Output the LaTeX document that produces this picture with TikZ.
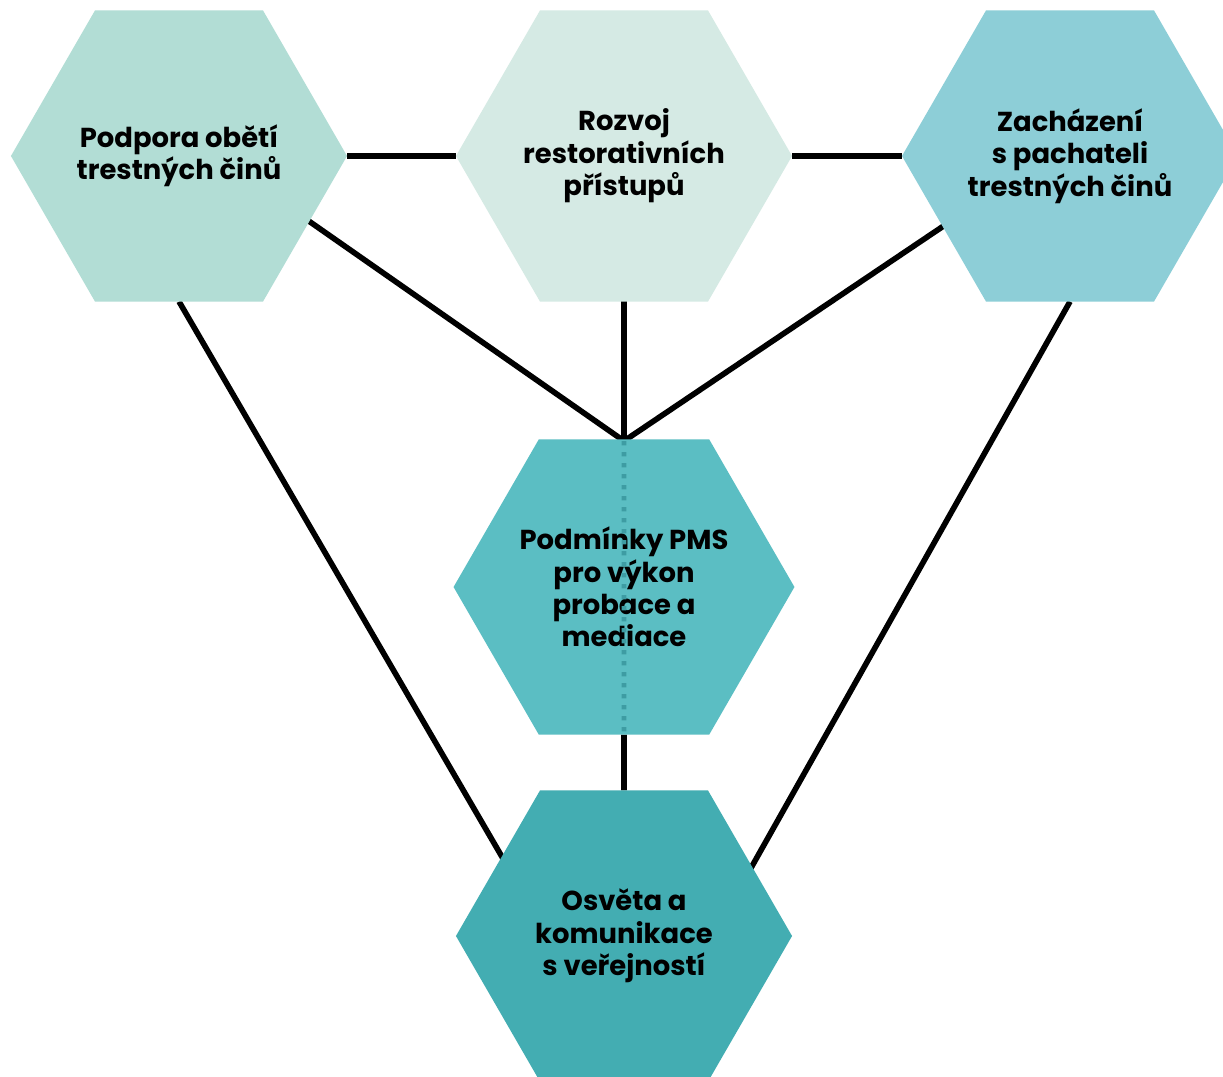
\documentclass[tikz,border=0pt]{standalone}
\usepackage{fontspec}
\setmainfont{Poppins}
\usetikzlibrary{shapes.geometric}
\definecolor{cTL}{HTML}{B2DDD5}
\definecolor{cTM}{HTML}{D5EAE4}
\definecolor{cTR}{HTML}{8DCED7}
\definecolor{cMH}{HTML}{5BBEC3}
\definecolor{cBT}{HTML}{43ADB2}
\definecolor{cDot}{HTML}{3E9CA3}
\pgfdeclarelayer{bg}
\pgfdeclarelayer{lines}
\pgfsetlayers{bg,lines,main}
\tikzset{
  hexnode/.style={regular polygon, regular polygon sides=6, minimum size=8.4cm,
    inner sep=0pt, outer sep=0pt, align=center,
    font=\fontsize{19.5}{23}\selectfont\bfseries},
  conn/.style={line width=4pt, black},
  dotconn/.style={line width=3.5pt, cDot, dash pattern=on 0.11cm off 0.165cm}
}
\begin{document}
\begin{tikzpicture}[x=0.025cm, y=-0.025cm]
\begin{pgfonlayer}{bg}
\fill[white] (0,0) rectangle (1223,1077);
\end{pgfonlayer}
\useasboundingbox (0,0) rectangle (1223,1077);
\node[hexnode, fill=cTL] (tl) at (179,156) {Podpora obětí\\trestných činů};
\node[hexnode, fill=cTM] (tm) at (624,156) {Rozvoj\\restorativních\\přístupů};
\node[hexnode, fill=cTR] (tr) at (1070,156) {Zacházení\\s pachateli\\trestných činů};
\node[hexnode, fill=cMH] (mh) at (624,587) {Podmínky PMS\\pro výkon\\probace a\\mediace};
\node[hexnode, fill=cBT] (bt) at (624,936) {Osvěta a\\komunikace\\s veřejností};
\coordinate (j) at (624,441);
\coordinate (tlin) at (250,180);
\coordinate (trin) at (1000,188);
\coordinate (btl) at (530,905);
\coordinate (btr) at (720,923);
\begin{pgfonlayer}{lines}
\draw[conn] (tl.east) -- (tm.west);
\draw[conn] (tm.east) -- (tr.west);
\draw[conn] (tm.center) -- (j);
\draw[conn] (tlin) -- (j) -- (trin);
\draw[conn] (mh.south) -- (bt.north);
\draw[conn] (tl.south) -- (btl);
\draw[conn] (tr.south) -- (btr);
\end{pgfonlayer}
\draw[dotconn] (j) -- (mh.south);
\end{tikzpicture}
\end{document}
